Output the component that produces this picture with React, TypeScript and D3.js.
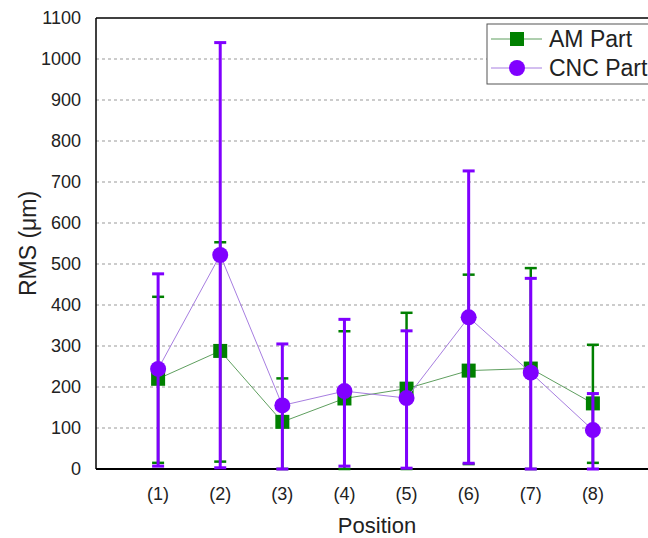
import React, { useEffect, useRef } from "react";
import * as d3 from "d3";

const positions = ["(1)", "(2)", "(3)", "(4)", "(5)", "(6)", "(7)", "(8)"];
const amMean = [220, 288, 115, 172, 196, 240, 245, 160];
const amLow = [15, 18, 0, 0, 0, 12, 0, 15];
const amHigh = [420, 553, 221, 336, 381, 474, 490, 303];
const cncMean = [244, 522, 155, 190, 173, 370, 235, 95];
const cncLow = [7, 3, 0, 7, 2, 14, 0, 0];
const cncHigh = [476, 1040, 305, 365, 337, 727, 465, 184];
const yTicks = [0, 100, 200, 300, 400, 500, 600, 700, 800, 900, 1000, 1100];

const GREEN = "#008000";
const PURPLE = "#8000ff";

export default function App() {
  const ref = useRef<SVGSVGElement>(null);

  useEffect(() => {
    const svg = d3.select(ref.current);
    svg.selectAll("*").remove();
    const font = "'Liberation Sans', Arial, sans-serif";

    const left = 96, top = 18, bottom = 469, right = 655;
    const x = d3.scaleLinear().domain([0, positions.length + 1]).range([left, right]);
    const y = d3.scaleLinear().domain([0, 1100]).range([bottom, top]);

    // grid
    svg.append("g")
      .selectAll("line")
      .data(yTicks.filter((t) => t > 0 && t < 1100))
      .join("line")
      .attr("x1", left).attr("x2", right)
      .attr("y1", (d) => y(d)).attr("y2", (d) => y(d))
      .attr("stroke", "#999").attr("stroke-width", 1)
      .attr("stroke-dasharray", "3,3");

    // y tick labels
    svg.append("g")
      .selectAll("text")
      .data(yTicks)
      .join("text")
      .attr("x", 81).attr("y", (d) => y(d))
      .attr("dy", "0.35em").attr("text-anchor", "end")
      .attr("font-family", font).attr("font-size", 18).attr("fill", "#222")
      .text((d) => d);

    // x tick labels
    svg.append("g")
      .selectAll("text")
      .data(positions)
      .join("text")
      .attr("x", (_d, i) => x(i + 1)).attr("y", 500)
      .attr("text-anchor", "middle")
      .attr("font-family", font).attr("font-size", 18).attr("fill", "#222")
      .text((d) => d);

    // axes
    svg.append("line").attr("x1", left).attr("x2", left).attr("y1", top).attr("y2", bottom)
      .attr("stroke", "#000").attr("stroke-width", 1.5);
    svg.append("line").attr("x1", left).attr("x2", right).attr("y1", top).attr("y2", top)
      .attr("stroke", "#000").attr("stroke-width", 1.5);
    svg.append("line").attr("x1", left).attr("x2", right).attr("y1", bottom).attr("y2", bottom)
      .attr("stroke", "#000").attr("stroke-width", 2);

    // axis titles
    svg.append("text")
      .attr("transform", `translate(36,${(top + bottom) / 2}) rotate(-90)`)
      .attr("text-anchor", "middle")
      .attr("font-family", font).attr("font-size", 23).attr("fill", "#222")
      .text("RMS (μm)");
    svg.append("text")
      .attr("x", 377).attr("y", 533).attr("text-anchor", "middle")
      .attr("font-family", font).attr("font-size", 22).attr("fill", "#222")
      .text("Position");

    const line = d3.line<number>().x((_d, i) => x(i + 1)).y((d) => y(d));

    const drawSeries = (
      mean: number[], low: number[], high: number[],
      color: string, lineColor: string, shape: "square" | "circle", barW: number
    ) => {
      const g = svg.append("g");
      g.append("path").datum(mean).attr("d", line)
        .attr("fill", "none").attr("stroke", lineColor).attr("stroke-width", 1);
      if (shape === "square") {
        g.selectAll("rect").data(mean).join("rect")
          .attr("x", (_d, i) => x(i + 1) - 7).attr("y", (d) => y(d) - 7)
          .attr("width", 14).attr("height", 14).attr("fill", color);
      } else {
        g.selectAll("circle").data(mean).join("circle")
          .attr("cx", (_d, i) => x(i + 1)).attr("cy", (d) => y(d))
          .attr("r", 8).attr("fill", color);
      }
      const eb = g.append("g").attr("stroke", color).attr("stroke-width", barW);
      mean.forEach((_m, i) => {
        const cx = x(i + 1);
        eb.append("line").attr("x1", cx).attr("x2", cx).attr("y1", y(low[i])).attr("y2", y(high[i]));
        [low[i], high[i]].forEach((v) => {
          eb.append("line").attr("x1", cx - 6).attr("x2", cx + 6).attr("y1", y(v)).attr("y2", y(v));
        });
      });
    };

    drawSeries(amMean, amLow, amHigh, GREEN, "#5f9f5f", "square", 2.5);
    drawSeries(cncMean, cncLow, cncHigh, PURPLE, "#a77ee0", "circle", 3);

    // legend
    const lg = svg.append("g");
    lg.append("rect").attr("x", 487).attr("y", 24).attr("width", 200).attr("height", 60)
      .attr("fill", "#fff").attr("stroke", "#555").attr("stroke-width", 1);
    const items = [
      { label: "AM Part", color: GREEN, lineColor: "#5f9f5f", shape: "square", yy: 39 },
      { label: "CNC Part", color: PURPLE, lineColor: "#a77ee0", shape: "circle", yy: 68 },
    ];
    items.forEach((it) => {
      lg.append("line").attr("x1", 491).attr("x2", 542).attr("y1", it.yy).attr("y2", it.yy)
        .attr("stroke", it.lineColor).attr("stroke-width", 1);
      if (it.shape === "square") {
        lg.append("rect").attr("x", 510).attr("y", it.yy - 7).attr("width", 14).attr("height", 14)
          .attr("fill", it.color);
      } else {
        lg.append("circle").attr("cx", 517).attr("cy", it.yy).attr("r", 8).attr("fill", it.color);
      }
      lg.append("text").attr("x", 549).attr("y", it.yy).attr("dy", "0.36em")
        .attr("font-family", font).attr("font-size", 23).attr("fill", "#222")
        .text(it.label);
    });
  }, []);

  return (
    <svg ref={ref} width={648} height={538}
      style={{ position: "absolute", left: 0, top: 0, background: "#fff" }} />
  );
}
